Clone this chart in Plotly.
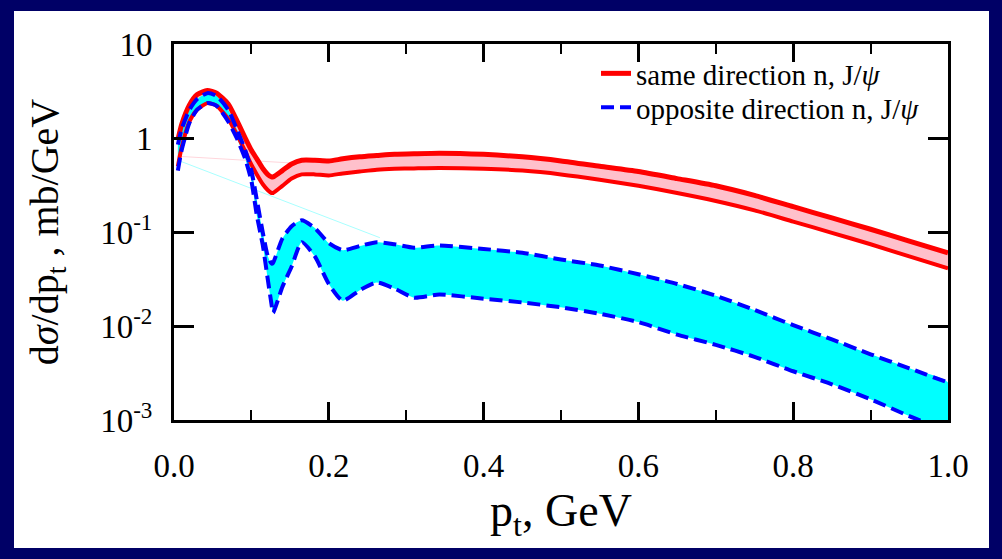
import plotly.graph_objects as go

# transverse momentum grid, GeV
pt = [0.005, 0.01, 0.02, 0.03, 0.043, 0.055, 0.07, 0.081, 0.092, 0.1,
      0.107, 0.115, 0.121, 0.126, 0.128, 0.14, 0.152, 0.165, 0.182, 0.2,
      0.218, 0.24, 0.262, 0.285, 0.31, 0.343, 0.4, 0.45, 0.5, 0.55,
      0.6, 0.65, 0.7, 0.75, 0.8, 0.85, 0.9, 0.95, 1.0]

# dsigma/dpt, mb/GeV : neutron and J/psi in the same direction (band edges)
same_hi = [0.95, 1.4, 2.25, 2.9, 3.2, 3.0, 2.3, 1.55, 1.0, 0.74,
           0.6, 0.47, 0.41, 0.385, 0.385, 0.45, 0.53, 0.58, 0.58, 0.57,
           0.6, 0.63, 0.65, 0.67, 0.68, 0.69, 0.67, 0.63, 0.57, 0.50,
           0.44, 0.37, 0.31, 0.245, 0.186, 0.141, 0.107, 0.080, 0.060]
same_lo = [0.5, 0.8, 1.5, 2.0, 2.35, 2.2, 1.6, 1.1, 0.72, 0.52,
           0.41, 0.32, 0.28, 0.26, 0.26, 0.31, 0.37, 0.41, 0.41, 0.40,
           0.42, 0.44, 0.46, 0.47, 0.475, 0.48, 0.47, 0.45, 0.41, 0.36,
           0.31, 0.26, 0.214, 0.17, 0.129, 0.098, 0.074, 0.055, 0.041]

# dsigma/dpt, mb/GeV : neutron and J/psi in opposite directions (band edges)
opp_hi = [0.85, 1.25, 2.0, 2.6, 3.0, 2.8, 2.0, 1.25, 0.74, 0.45,
          0.22, 0.096, 0.056, 0.046, 0.047, 0.085, 0.115, 0.133, 0.11, 0.076,
          0.064, 0.071, 0.078, 0.074, 0.068, 0.072, 0.066, 0.060, 0.051, 0.044,
          0.0355, 0.028, 0.021, 0.0148, 0.0102, 0.0072, 0.0050, 0.00355, 0.0025]
opp_lo = [0.45, 0.75, 1.45, 2.0, 2.35, 2.2, 1.5, 1.0, 0.6, 0.35,
          0.15, 0.07, 0.032, 0.017, 0.0138, 0.026, 0.043, 0.078, 0.055, 0.028,
          0.0186, 0.024, 0.029, 0.025, 0.020, 0.0216, 0.0195, 0.0178, 0.0158, 0.0135,
          0.011, 0.0081, 0.0063, 0.0047, 0.0033, 0.0024, 0.00166, 0.0011, 0.00076]

# faint closing edges of the shaded regions
pink_edge_pt = [0.004, 0.155]
pink_edge_val = [0.64, 0.54]
cyan_edge_pt = [0.005, 0.266]
cyan_edge_val = [0.58, 0.087]

x_tick_vals = [0.0, 0.2, 0.4, 0.6, 0.8, 1.0]
x_tick_text = ["0.0", "0.2", "0.4", "0.6", "0.8", "1.0"]
x_minor_vals = [0.1, 0.3, 0.5, 0.7, 0.9]
y_tick_vals = [1e-3, 1e-2, 1e-1, 1, 10]
y_tick_text = ["10<sup>-3</sup>", "10<sup>-2</sup>", "10<sup>-1</sup>", "1", "10"]

legend_same = "same direction n, J/<i>\u03c8</i>"
legend_opp = "opposite direction n, J/<i>\u03c8</i>"

# page geometry (pixels)
W, H = 1002, 559
L, R, T, B = 174, 948, 44, 420
PANEL = (14, 11, 989, 548)

SERIF = "Liberation Serif, Times New Roman, serif"
SPL = dict(shape="spline", smoothing=0.6)


def px_to_paper_x(px):
    return (px - L) / (R - L)


def px_to_paper_y(py):
    return (B - py) / (B - T)


fig = go.Figure()

# shaded bands
fig.add_trace(go.Scatter(x=pt + pt[::-1], y=same_hi + same_lo[::-1], fill="toself",
                         fillcolor="#ffc0cb", mode="lines", line=dict(width=0, **SPL),
                         showlegend=False, hoverinfo="skip"))
fig.add_trace(go.Scatter(x=pt + pt[::-1], y=opp_hi + opp_lo[::-1], fill="toself",
                         fillcolor="#00ffff", mode="lines", line=dict(width=0, **SPL),
                         showlegend=False, hoverinfo="skip"))
fig.add_trace(go.Scatter(x=pink_edge_pt, y=pink_edge_val, mode="lines",
                         line=dict(color="#ffd6dc", width=1), showlegend=False, hoverinfo="skip"))
fig.add_trace(go.Scatter(x=cyan_edge_pt, y=cyan_edge_val, mode="lines",
                         line=dict(color="#a8ffff", width=1), showlegend=False, hoverinfo="skip"))

# band edges
fig.add_trace(go.Scatter(x=pt, y=same_hi, mode="lines", name=legend_same, legend="legend",
                         line=dict(color="#ff0000", width=5, **SPL)))
fig.add_trace(go.Scatter(x=pt, y=same_lo, mode="lines", showlegend=False,
                         line=dict(color="#ff0000", width=4, **SPL)))
fig.add_trace(go.Scatter(x=pt, y=opp_hi, mode="lines", name=legend_opp, legend="legend2",
                         line=dict(color="#0000ff", width=4, dash="13px,6px", **SPL)))
fig.add_trace(go.Scatter(x=pt, y=opp_lo, mode="lines", showlegend=False,
                         line=dict(color="#0000ff", width=4, dash="13px,6px", **SPL)))

# white panel on the navy page
fig.add_shape(type="rect", xref="paper", yref="paper", layer="below",
              x0=px_to_paper_x(PANEL[0]), x1=px_to_paper_x(PANEL[2]),
              y0=px_to_paper_y(PANEL[3]), y1=px_to_paper_y(PANEL[1]),
              fillcolor="white", line=dict(width=0))

axis_common = dict(showline=True, linecolor="black", linewidth=3, mirror="ticks",
                   ticks="inside", tickcolor="black", showgrid=False, zeroline=False,
                   tickfont=dict(family=SERIF, size=33, color="black"))

legend_common = dict(xanchor="left", yanchor="top", bgcolor="rgba(0,0,0,0)", borderwidth=0,
                     font=dict(family=SERIF, size=29, color="black"))

fig.update_layout(
    width=W, height=H,
    margin=dict(l=L, r=W - R, t=T, b=H - B, pad=0),
    paper_bgcolor="#000066",
    plot_bgcolor="white",
    font=dict(family=SERIF, color="black"),
    xaxis=dict(range=[0, 1], tickvals=x_tick_vals, ticktext=x_tick_text,
               ticklen=18, tickwidth=3, ticklabelstandoff=14,
               minor=dict(tickvals=x_minor_vals, ticks="inside", ticklen=10,
                          tickwidth=2, tickcolor="black"),
               title=dict(text="p<sub>t</sub>, GeV", font=dict(family=SERIF, size=46),
                          standoff=12),
               **axis_common),
    yaxis=dict(type="log", range=[-3, 1], tickvals=y_tick_vals, ticktext=y_tick_text,
               ticklen=20, tickwidth=3, ticklabelstandoff=12,
               title=dict(text="d<i>\u03c3</i>/dp<sub>t</sub> , mb/GeV",
                          font=dict(family=SERIF, size=40), standoff=30),
               **axis_common),
    legend=dict(x=px_to_paper_x(596), y=px_to_paper_y(48), **legend_common),
    legend2=dict(x=px_to_paper_x(596), y=px_to_paper_y(82), **legend_common),
    showlegend=True,
)

fig.write_html("out.html")
